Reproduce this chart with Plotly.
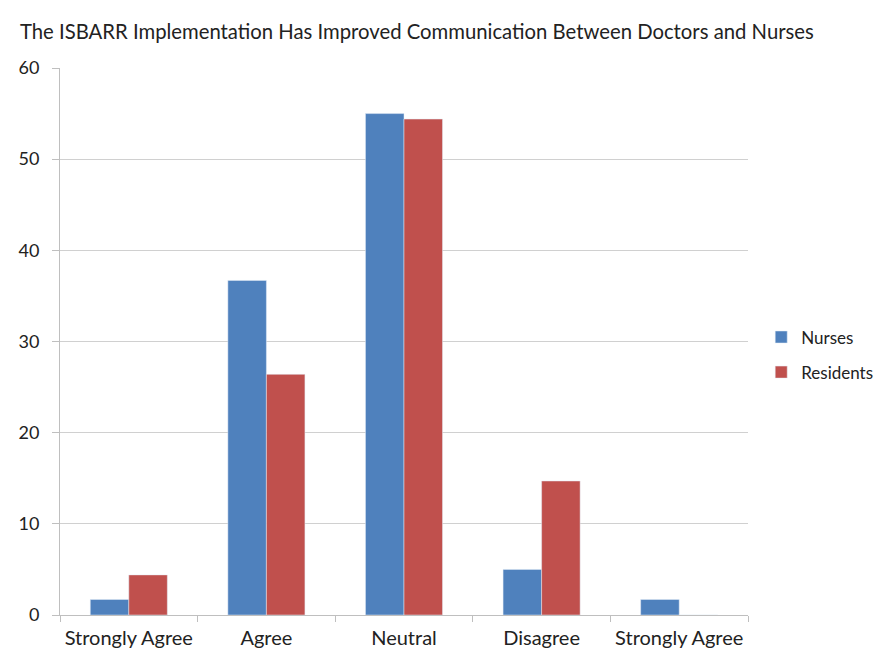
import plotly.graph_objects as go

categories = ["Strongly Agree", "Agree", "Neutral", "Disagree", "Strongly Agree"]
nurses = [1.7, 36.7, 55.0, 5.0, 1.7]
residents = [4.4, 26.4, 54.4, 14.7, 0.0]
y_ticks = [0, 10, 20, 30, 40, 50, 60]

positions = list(range(len(categories)))
boundaries = [p - 0.5 for p in positions] + [positions[-1] + 0.5]

font_family = "Lato, Open Sans, sans-serif"

fig = go.Figure()
fig.add_trace(go.Bar(x=positions, y=nurses, name="Nurses", marker_color="#4F81BD", legendgroup="a"))
fig.add_trace(go.Bar(x=positions, y=residents, name="Residents", marker_color="#C0504D", legendgroup="b"))

fig.update_layout(
    width=879, height=661,
    margin=dict(l=60, r=131, t=68, b=46),
    paper_bgcolor="white", plot_bgcolor="white",
    barmode="group", bargap=0.44, bargroupgap=0,
    title=dict(text="The ISBARR Implementation Has Improved Communication Between Doctors and Nurses",
               x=20 / 879, xanchor="left", xref="container", y=0.951, yanchor="middle",
               font=dict(family=font_family, size=20.3, color="#222222")),
    font=dict(family=font_family, color="#222222"),
    legend=dict(xref="container", yref="container", x=0.866, xanchor="left", y=0.463, yanchor="middle",
                font=dict(size=17, color="#222222"), itemwidth=30,
                traceorder="grouped", tracegroupgap=10),
    showlegend=True,
)
fig.update_xaxes(
    range=[-0.5, len(categories) - 0.5],
    tickmode="array", tickvals=positions, ticktext=categories,
    ticks="", showgrid=False, zeroline=False,
    showline=True, linecolor="#bfbfbf", linewidth=1,
    tickfont=dict(size=20, color="#222222"),
    ticklabelstandoff=5,
    minor=dict(tickmode="array", tickvals=boundaries, ticks="outside", ticklen=6, tickcolor="#bfbfbf", showgrid=False),
)
fig.update_yaxes(
    range=[0, 60], tickmode="array", tickvals=y_ticks,
    showgrid=True, gridcolor="#d0d0d0", gridwidth=1,
    zeroline=False, showline=True, linecolor="#bfbfbf", linewidth=1,
    ticks="outside", ticklen=7, tickcolor="#bfbfbf",
    tickfont=dict(size=18, color="#222222"),
    ticklabelstandoff=9,
)

fig.write_html("out.html")
